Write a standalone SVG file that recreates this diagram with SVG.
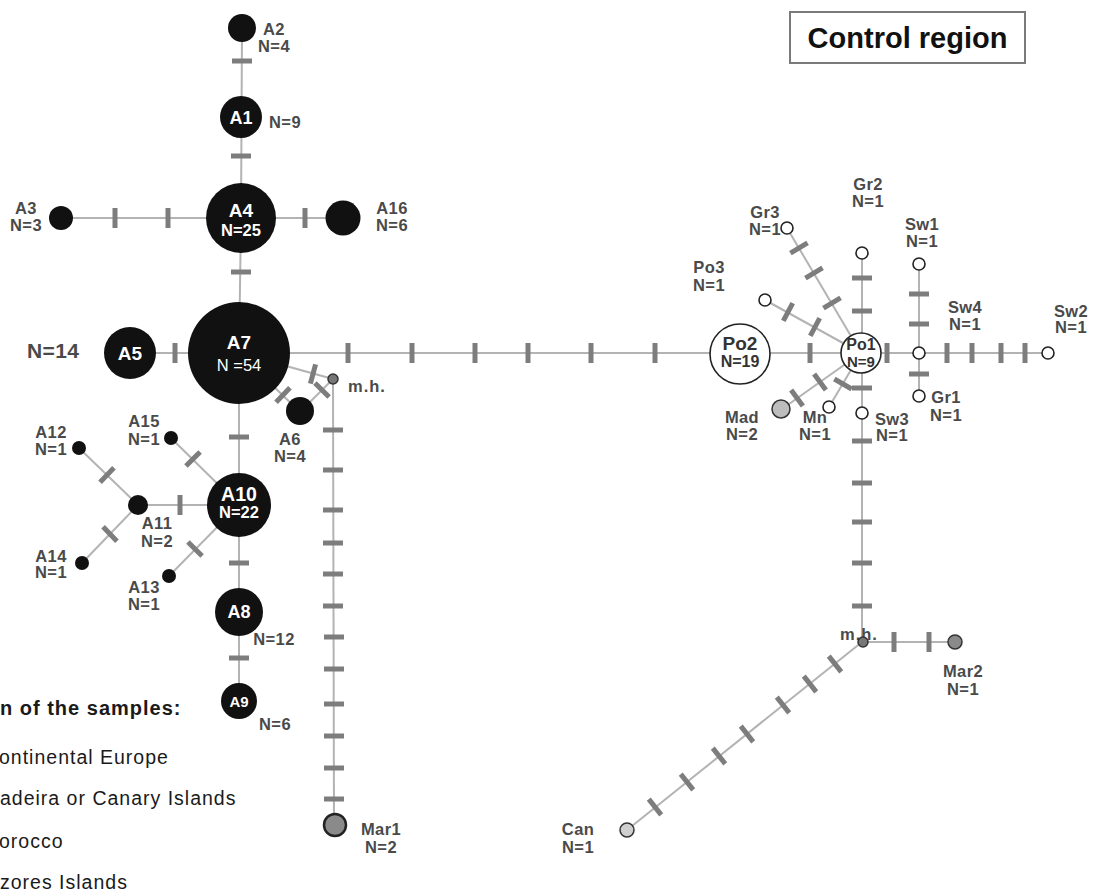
<svg xmlns="http://www.w3.org/2000/svg" xmlns:xlink="http://www.w3.org/1999/xlink" width="1093" height="893" viewBox="0 0 1093 893">
  <style>
    .ln{stroke:#b3b3b3;stroke-width:2;fill:none}
    .blk{fill:#111}
    .open{fill:#fff;stroke:#222;stroke-width:1.6}
    .mh{fill:#777;stroke:#333;stroke-width:1.5}
    .lbl{font-family:"Liberation Sans",Arial,sans-serif;font-weight:bold;font-size:16.5px;fill:#4a4a4a;text-anchor:middle;letter-spacing:0.4px}
    .in{font-family:"Liberation Sans",Arial,sans-serif;font-weight:bold;fill:#fff;text-anchor:middle}
    .inr{font-family:"Liberation Sans",Arial,sans-serif;fill:#fff;text-anchor:middle}
    .po{font-family:"Liberation Sans",Arial,sans-serif;font-weight:bold;fill:#333;text-anchor:middle}
    .leg{font-family:"Liberation Sans",Arial,sans-serif;font-size:19.5px;fill:#1a1a1a;letter-spacing:1px}
  </style>
  <defs>
    <line id="tk" x1="-10" y1="0" x2="10" y2="0" stroke="#7d7d7d" stroke-width="5"/>
  </defs>
  <rect width="1093" height="893" fill="#fff"/>

  <!-- connectors -->
  <g id="connectors">
    <polyline class="ln" points="242,28 241,218 239,354 239,701"/>
    <line class="ln" x1="61" y1="218" x2="343" y2="218"/>
    <line class="ln" x1="130" y1="353" x2="1048" y2="353"/>
    <line class="ln" x1="239" y1="353" x2="333" y2="379"/>
    <line class="ln" x1="239" y1="353" x2="300" y2="412"/>
    <line class="ln" x1="300" y1="412" x2="333" y2="379"/>
    <line class="ln" x1="333" y1="379" x2="334" y2="826"/>
    <line class="ln" x1="239" y1="505" x2="138" y2="505"/>
    <line class="ln" x1="138" y1="505" x2="79" y2="448"/>
    <line class="ln" x1="138" y1="505" x2="82" y2="563"/>
    <line class="ln" x1="239" y1="505" x2="171" y2="438"/>
    <line class="ln" x1="239" y1="505" x2="169" y2="576"/>
    <line class="ln" x1="862" y1="253" x2="862" y2="642"/>
    <line class="ln" x1="919" y1="264" x2="919" y2="396"/>
    <line class="ln" x1="861" y1="353" x2="787" y2="228"/>
    <line class="ln" x1="861" y1="353" x2="765" y2="300"/>
    <line class="ln" x1="861" y1="353" x2="782" y2="409"/>
    <line class="ln" x1="861" y1="353" x2="829" y2="407"/>
    <line class="ln" x1="862" y1="642" x2="955" y2="642"/>
    <line class="ln" x1="862" y1="642" x2="627" y2="830"/>

    <!-- mutation steps -->
    <use xlink:href="#tk" transform="translate(242 61)"/>
    <use xlink:href="#tk" transform="translate(241 156)"/>
    <use xlink:href="#tk" transform="translate(241 272)"/>
    <use xlink:href="#tk" transform="translate(239 437)"/>
    <use xlink:href="#tk" transform="translate(239 563)"/>
    <use xlink:href="#tk" transform="translate(239 658)"/>
    <use xlink:href="#tk" transform="translate(115 218) rotate(90)"/>
    <use xlink:href="#tk" transform="translate(168 218) rotate(90)"/>
    <use xlink:href="#tk" transform="translate(305 218) rotate(90)"/>
    <use xlink:href="#tk" transform="translate(175 353) rotate(90)"/>
    <use xlink:href="#tk" transform="translate(348 353) rotate(90)"/>
    <use xlink:href="#tk" transform="translate(412 353) rotate(90)"/>
    <use xlink:href="#tk" transform="translate(475 353) rotate(90)"/>
    <use xlink:href="#tk" transform="translate(528 353) rotate(90)"/>
    <use xlink:href="#tk" transform="translate(591 353) rotate(90)"/>
    <use xlink:href="#tk" transform="translate(655 353) rotate(90)"/>
    <use xlink:href="#tk" transform="translate(810 353) rotate(90)"/>
    <use xlink:href="#tk" transform="translate(887 353) rotate(90)"/>
    <use xlink:href="#tk" transform="translate(947 353) rotate(90)"/>
    <use xlink:href="#tk" transform="translate(972 353) rotate(90)"/>
    <use xlink:href="#tk" transform="translate(1001 353) rotate(90)"/>
    <use xlink:href="#tk" transform="translate(1025 353) rotate(90)"/>
    <use xlink:href="#tk" transform="translate(919 294)"/>
    <use xlink:href="#tk" transform="translate(919 324)"/>
    <use xlink:href="#tk" transform="translate(919 374)"/>
    <use xlink:href="#tk" transform="translate(862 278)"/>
    <use xlink:href="#tk" transform="translate(862 311)"/>
    <use xlink:href="#tk" transform="translate(862 388)"/>
    <use xlink:href="#tk" transform="translate(862 441)"/>
    <use xlink:href="#tk" transform="translate(862 483)"/>
    <use xlink:href="#tk" transform="translate(862 522)"/>
    <use xlink:href="#tk" transform="translate(862 563)"/>
    <use xlink:href="#tk" transform="translate(862 606)"/>
    <use xlink:href="#tk" transform="translate(799 248) rotate(149)"/>
    <use xlink:href="#tk" transform="translate(814 273) rotate(149)"/>
    <use xlink:href="#tk" transform="translate(832 303) rotate(149)"/>
    <use xlink:href="#tk" transform="translate(788 312) rotate(118)"/>
    <use xlink:href="#tk" transform="translate(815 327) rotate(118)"/>
    <use xlink:href="#tk" transform="translate(820 382) rotate(54)"/>
    <use xlink:href="#tk" transform="translate(797 398) rotate(54)"/>
    <use xlink:href="#tk" transform="translate(843 384) rotate(30)"/>
    <use xlink:href="#tk" transform="translate(894 642) rotate(90)"/>
    <use xlink:href="#tk" transform="translate(929 642) rotate(90)"/>
    <use xlink:href="#tk" transform="translate(835 664) rotate(51.5)"/>
    <use xlink:href="#tk" transform="translate(810 684) rotate(51.5)"/>
    <use xlink:href="#tk" transform="translate(783 705) rotate(51.5)"/>
    <use xlink:href="#tk" transform="translate(747 734) rotate(51.5)"/>
    <use xlink:href="#tk" transform="translate(719 756) rotate(51.5)"/>
    <use xlink:href="#tk" transform="translate(687 782) rotate(51.5)"/>
    <use xlink:href="#tk" transform="translate(655 807) rotate(51.5)"/>
    <use xlink:href="#tk" transform="translate(313 374) rotate(105)"/>
    <use xlink:href="#tk" transform="translate(283 395) rotate(134)"/>
    <use xlink:href="#tk" transform="translate(322 390) rotate(45)"/>
    <use xlink:href="#tk" transform="translate(333 430)"/>
    <use xlink:href="#tk" transform="translate(333 470)"/>
    <use xlink:href="#tk" transform="translate(333 510)"/>
    <use xlink:href="#tk" transform="translate(333 543)"/>
    <use xlink:href="#tk" transform="translate(333 574)"/>
    <use xlink:href="#tk" transform="translate(333 606)"/>
    <use xlink:href="#tk" transform="translate(334 637)"/>
    <use xlink:href="#tk" transform="translate(334 669)"/>
    <use xlink:href="#tk" transform="translate(334 704)"/>
    <use xlink:href="#tk" transform="translate(334 736)"/>
    <use xlink:href="#tk" transform="translate(334 768)"/>
    <use xlink:href="#tk" transform="translate(334 799)"/>
    <use xlink:href="#tk" transform="translate(180 505) rotate(90)"/>
    <use xlink:href="#tk" transform="translate(193 459) rotate(135)"/>
    <use xlink:href="#tk" transform="translate(107 475) rotate(134)"/>
    <use xlink:href="#tk" transform="translate(110 534) rotate(46)"/>
    <use xlink:href="#tk" transform="translate(195 549) rotate(45)"/>
  </g>

  <!-- haplotypes, left network -->
  <g id="A2"><circle class="blk" cx="242" cy="28" r="14"/><text class="lbl" x="274" y="35">A2</text><text class="lbl" x="274" y="52">N=4</text></g>
  <g id="A1"><circle class="blk" cx="241" cy="117" r="21"/><text class="in" x="241" y="124" font-size="18">A1</text><text class="lbl" x="285" y="128">N=9</text></g>
  <g id="A4"><circle class="blk" cx="241" cy="218" r="35"/><text class="in" x="241" y="217" font-size="19">A4</text><text class="in" x="241" y="236" font-size="16.5">N=25</text></g>
  <g id="A3"><circle class="blk" cx="61" cy="218" r="12"/><text class="lbl" x="26" y="214">A3</text><text class="lbl" x="26" y="231">N=3</text></g>
  <g id="A16"><circle class="blk" cx="343" cy="218" r="17.5"/><text class="lbl" x="392" y="214">A16</text><text class="lbl" x="392" y="231">N=6</text></g>
  <g id="A7"><circle class="blk" cx="239" cy="353" r="51"/><text class="in" x="239" y="349" font-size="19">A7</text><text class="inr" x="239" y="371" font-size="16.5">N =54</text></g>
  <g id="A5"><circle class="blk" cx="130" cy="353" r="26"/><text class="in" x="130" y="360" font-size="19">A5</text><text class="lbl" x="27" y="358" style="text-anchor:start;font-size:21px">N=14</text></g>
  <g id="mh1"><circle class="mh" cx="333" cy="379" r="5"/><text class="lbl" x="348" y="392" style="text-anchor:start;letter-spacing:1px">m.h.</text></g>
  <g id="A6"><circle class="blk" cx="300" cy="411" r="14"/><text class="lbl" x="290" y="445">A6</text><text class="lbl" x="290" y="462">N=4</text></g>
  <g id="A10"><circle class="blk" cx="239" cy="505" r="32"/><text class="in" x="239" y="501" font-size="19.5">A10</text><text class="in" x="239" y="518" font-size="16.5">N=22</text></g>
  <g id="A11"><circle class="blk" cx="138" cy="505" r="10"/><text class="lbl" x="157" y="529">A11</text><text class="lbl" x="157" y="547">N=2</text></g>
  <g id="A12"><circle class="blk" cx="79" cy="448" r="7"/><text class="lbl" x="51" y="438">A12</text><text class="lbl" x="51" y="455">N=1</text></g>
  <g id="A15"><circle class="blk" cx="171" cy="438" r="7"/><text class="lbl" x="144" y="427">A15</text><text class="lbl" x="144" y="445">N=1</text></g>
  <g id="A14"><circle class="blk" cx="82" cy="563" r="7"/><text class="lbl" x="51" y="562">A14</text><text class="lbl" x="51" y="578">N=1</text></g>
  <g id="A13"><circle class="blk" cx="169" cy="576" r="7"/><text class="lbl" x="144" y="593">A13</text><text class="lbl" x="144" y="610">N=1</text></g>
  <g id="A8"><circle class="blk" cx="239" cy="612" r="24"/><text class="in" x="239" y="618" font-size="18">A8</text><text class="lbl" x="274" y="645">N=12</text></g>
  <g id="A9"><circle class="blk" cx="239" cy="701" r="18"/><text class="in" x="239" y="707" font-size="15">A9</text><text class="lbl" x="275" y="730">N=6</text></g>
  <g id="Mar1"><circle cx="335" cy="825" r="11" fill="#8a8a8a" stroke="#222" stroke-width="2.5"/><text class="lbl" x="381" y="835">Mar1</text><text class="lbl" x="381" y="853">N=2</text></g>

  <!-- haplotypes, right network -->
  <g id="Po2"><circle class="open" cx="740" cy="354" r="30"/><text class="po" x="740" y="350" font-size="19">Po2</text><text class="po" x="740" y="367" font-size="16">N=19</text></g>
  <g id="Po1"><circle class="open" cx="861" cy="353" r="20"/><text class="po" x="861" y="350" font-size="16">Po1</text><text class="po" x="861" y="367" font-size="15">N=9</text></g>
  <g id="Gr2"><circle class="open" cx="862" cy="253" r="6"/><text class="lbl" x="868" y="190">Gr2</text><text class="lbl" x="868" y="207">N=1</text></g>
  <g id="Gr3"><text class="lbl" x="765" y="218">Gr3</text><text class="lbl" x="765" y="235">N=1</text><circle class="open" cx="787" cy="228" r="6"/></g>
  <g id="Po3"><circle class="open" cx="765" cy="300" r="6"/><text class="lbl" x="709" y="273">Po3</text><text class="lbl" x="709" y="291">N=1</text></g>
  <g id="Sw1"><circle class="open" cx="919" cy="264" r="6"/><text class="lbl" x="922" y="230">Sw1</text><text class="lbl" x="922" y="247">N=1</text></g>
  <g id="Sw4"><circle class="open" cx="919" cy="353" r="6"/><text class="lbl" x="965" y="313">Sw4</text><text class="lbl" x="965" y="330">N=1</text></g>
  <g id="Sw2"><circle class="open" cx="1048" cy="353" r="6"/><text class="lbl" x="1071" y="317">Sw2</text><text class="lbl" x="1071" y="333">N=1</text></g>
  <g id="Gr1"><circle class="open" cx="919" cy="396" r="6"/><text class="lbl" x="946" y="403">Gr1</text><text class="lbl" x="946" y="421">N=1</text></g>
  <g id="Mad"><circle cx="781" cy="409" r="9" fill="#bdbdbd" stroke="#333" stroke-width="1.5"/><text class="lbl" x="742" y="423">Mad</text><text class="lbl" x="742" y="440">N=2</text></g>
  <g id="Mn"><text class="lbl" x="815" y="423">Mn</text><text class="lbl" x="815" y="440">N=1</text><circle class="open" cx="829" cy="407" r="6"/></g>
  <g id="Sw3"><circle class="open" cx="862" cy="413" r="6"/><text class="lbl" x="892" y="425">Sw3</text><text class="lbl" x="892" y="441">N=1</text></g>
  <g id="mh2"><text class="lbl" x="840" y="640" style="text-anchor:start;letter-spacing:1px">m.h.</text><circle class="mh" cx="863" cy="642" r="5"/></g>
  <g id="Mar2"><circle cx="955" cy="642" r="7" fill="#8a8a8a" stroke="#333" stroke-width="1.5"/><text class="lbl" x="963" y="677">Mar2</text><text class="lbl" x="963" y="695">N=1</text></g>
  <g id="Can"><circle cx="627" cy="830" r="7" fill="#cfcfcf" stroke="#333" stroke-width="1.5"/><text class="lbl" x="578" y="835">Can</text><text class="lbl" x="578" y="853">N=1</text></g>

  <!-- title box -->
  <g id="title">
    <rect x="790" y="12" width="235" height="51" fill="#fff" stroke="#7a7a7a" stroke-width="2"/>
    <text x="907.5" y="48" font-family="'Liberation Sans',Arial,sans-serif" font-weight="bold" font-size="29" fill="#111" text-anchor="middle">Control region</text>
  </g>

  <!-- legend -->
  <g id="legend">
    <text class="leg" x="0" y="715" style="font-weight:bold;font-size:20px;letter-spacing:1px">n of the samples:</text>
    <text class="leg" x="-1" y="764">ontinental Europe</text>
    <text class="leg" x="0" y="805">adeira or Canary Islands</text>
    <text class="leg" x="-1" y="848">orocco</text>
    <text class="leg" x="0" y="889">zores Islands</text>
  </g>
</svg>
